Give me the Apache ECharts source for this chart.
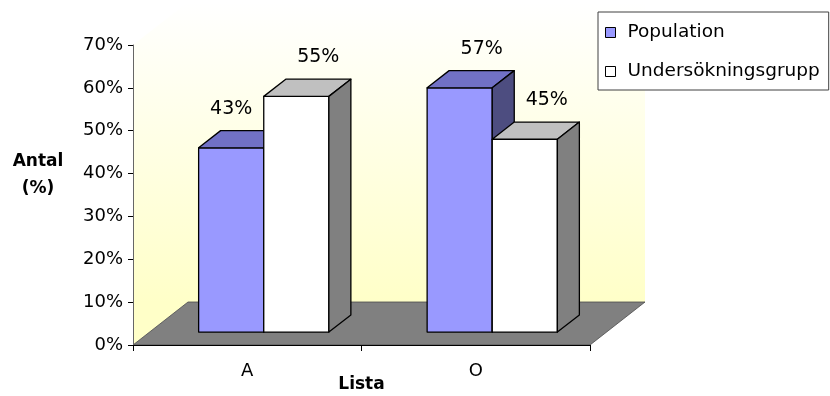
<!DOCTYPE html>
<html>
<head>
<meta charset="utf-8">
<script src="https://cdn.jsdelivr.net/npm/echarts@6/dist/echarts.min.js"></script>
<style>
  html, body { margin: 0; padding: 0; background: #fff; }
  #chart { width: 830px; height: 396px; }
</style>
</head>
<body>
<div id="chart"></div>
<script>
// Categories and values (percent)
const categories = ['A', 'O'];
const seriesNames = ['Population', 'Undersökningsgrupp'];
const population = [43, 57];
const undersokningsgrupp = [55, 45];
const valueTicks = [0, 10, 20, 30, 40, 50, 60, 70];

// 3D look: depth offset of the floor and where the bars sit along it
const DEPTH = { x: 55, y: -43 };
const BAR_FRONT = 0.30;
const BAR_BACK = 0.70;
const FONT = 'DejaVu Sans';

const palette = [
  { front: '#9999FF', top: '#7171C6', side: '#4D4D80' },
  { front: '#FFFFFF', top: '#C0C0C0', side: '#808080' }
];
const seriesValues = [population, undersokningsgrupp];

// Walls and floor of the 3D plot box
function renderFrame(params, api) {
  const cs = params.coordSys;
  const x0 = cs.x, x1 = cs.x + cs.width;
  const yTop = cs.y, yBot = cs.y + cs.height;
  const dx = DEPTH.x, dy = DEPTH.y;
  const wallFill = new echarts.graphic.LinearGradient(0, yTop + dy, 0, yBot + dy, [
    { offset: 0, color: '#FFFFFF' },
    { offset: 1, color: '#FFFFC8' }
  ], true);
  return {
    type: 'group',
    children: [
      { type: 'rect', shape: { x: x0 + dx, y: yTop + dy, width: cs.width, height: cs.height },
        style: { fill: wallFill } },
      { type: 'polygon', shape: { points: [[x0, yBot], [x0 + dx, yBot + dy], [x0 + dx, yTop + dy], [x0, yTop]] },
        style: { fill: wallFill } },
      { type: 'polygon', shape: { points: [[x0, yBot], [x1, yBot], [x1 + dx, yBot + dy], [x0 + dx, yBot + dy]] },
        style: { fill: '#808080', stroke: '#4a4a4a', lineWidth: 0.8 } }
    ]
  };
}

function makeBarRenderer(sIdx) {
  return function (params, api) {
    const cat = api.value(0);
    const v = api.value(1);
    const base = api.coord([cat, 0]);
    const band = api.size([1, 0])[0];
    const h = api.size([0, v])[1];
    const barW = band * 0.285;
    const nBars = seriesValues.length;
    const fx = base[0] + DEPTH.x * BAR_FRONT - (nBars * barW) / 2 + sIdx * barW;
    const fy = base[1] + DEPTH.y * BAR_FRONT;
    const ddx = DEPTH.x * (BAR_BACK - BAR_FRONT);
    const ddy = DEPTH.y * (BAR_BACK - BAR_FRONT);
    const top = fy - h;
    const c = palette[sIdx];
    const edge = { stroke: '#000', lineWidth: 1.3, lineJoin: 'round' };

    // label sits above the back of the bar unless the neighbour bar is in the way
    let lx = fx + barW / 2 + ddx;
    const ly = top - 39;
    if (sIdx + 1 < nBars) {
      const nextH = api.size([0, seriesValues[sIdx + 1][cat]])[1];
      const nextTop = fy - nextH;
      if (lx + 20 > fx + barW && ly + 9 > nextTop) {
        lx = fx + barW / 2;
      }
    }

    return {
      type: 'group',
      children: [
        { type: 'rect', shape: { x: fx, y: top, width: barW, height: h },
          style: Object.assign({ fill: c.front }, edge) },
        { type: 'polygon', shape: { points: [[fx, top], [fx + barW, top], [fx + barW + ddx, top + ddy], [fx + ddx, top + ddy]] },
          style: Object.assign({ fill: c.top }, edge) },
        { type: 'polygon', shape: { points: [[fx + barW, top], [fx + barW + ddx, top + ddy], [fx + barW + ddx, fy + ddy], [fx + barW, fy]] },
          style: Object.assign({ fill: c.side }, edge) },
        { type: 'text', z2: 10,
          style: { x: lx, y: ly, text: v + '%', fill: '#000', font: '19px "' + FONT + '"',
                   align: 'center', verticalAlign: 'middle' } }
      ]
    };
  };
}

const chart = echarts.init(document.getElementById('chart'), null, { renderer: 'canvas', width: 830, height: 396 });

chart.setOption({
  animation: false,
  backgroundColor: '#fff',
  textStyle: { fontFamily: FONT },
  grid: { left: 133, top: 45, width: 457, height: 300, containLabel: false, outerBoundsMode: 'none' },
  xAxis: {
    type: 'category',
    data: categories,
    z: 10,
    name: 'Lista',
    nameLocation: 'middle',
    nameGap: 31,
    nameMoveOverlap: false,
    nameTextStyle: { fontFamily: FONT, fontSize: 17, fontWeight: 'bold', color: '#000' },
    axisLine: { lineStyle: { color: '#000', width: 1 } },
    axisTick: { show: true, alignWithLabel: false, length: 6, lineStyle: { color: '#000' } },
    axisLabel: { margin: 17, fontFamily: FONT, fontSize: 18, color: '#000' },
    splitLine: { show: false }
  },
  yAxis: {
    type: 'value',
    min: valueTicks[0],
    max: valueTicks[valueTicks.length - 1],
    interval: valueTicks[1] - valueTicks[0],
    z: 10,
    axisLine: { show: true, lineStyle: { color: '#666', width: 1 } },
    axisTick: { show: true, length: 5, lineStyle: { color: '#000' } },
    axisLabel: { margin: 10, fontFamily: FONT, fontSize: 18, color: '#000', formatter: '{value}%' },
    splitLine: { show: false }
  },
  legend: {
    orient: 'vertical',
    left: 598,
    top: 12,
    padding: [11, 9, 9, 7],
    itemGap: 20,
    itemWidth: 10,
    itemHeight: 10,
    borderColor: '#404040',
    borderWidth: 1,
    backgroundColor: '#fff',
    selectedMode: false,
    textStyle: { fontFamily: FONT, fontSize: 18.5, lineHeight: 18, color: '#000', padding: [0, 0, 0, 7] },
    data: [
      { name: seriesNames[0], icon: 'rect', itemStyle: { color: palette[0].front, borderColor: '#000', borderWidth: 1 } },
      { name: seriesNames[1], icon: 'rect', itemStyle: { color: palette[1].front, borderColor: '#000', borderWidth: 1 } }
    ]
  },
  graphic: [
    { type: 'text', x: 38, y: 175,
      style: { text: 'Antal\n(%)', align: 'center', verticalAlign: 'middle', lineHeight: 27,
               font: 'bold 17px "' + FONT + '"', fill: '#000' } }
  ],
  series: [
    { type: 'custom', name: 'frame', z: 1, silent: true, renderItem: renderFrame, data: [[0, 0]],
      encode: { x: 0, y: 1 } },
    { type: 'custom', name: seriesNames[0], z: 2, renderItem: makeBarRenderer(0),
      itemStyle: { color: palette[0].front },
      data: categories.map((c, i) => [i, population[i]]), encode: { x: 0, y: 1 } },
    { type: 'custom', name: seriesNames[1], z: 3, renderItem: makeBarRenderer(1),
      itemStyle: { color: palette[1].front },
      data: categories.map((c, i) => [i, undersokningsgrupp[i]]), encode: { x: 0, y: 1 } }
  ]
});
</script>
</body>
</html>
